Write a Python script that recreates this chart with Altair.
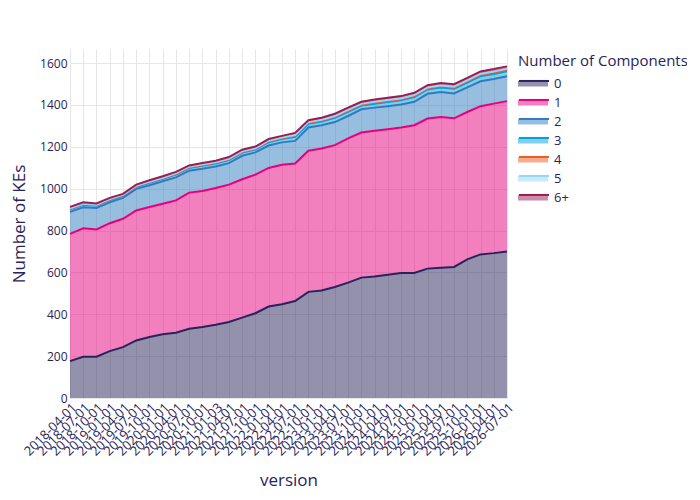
import altair as alt
import pandas as pd

versions = [
    "2018-04-01", "2018-07-01", "2018-10-01", "2019-01-01", "2019-04-01",
    "2019-07-01", "2019-10-01", "2020-01-01", "2020-04-01", "2020-07-01",
    "2020-10-01", "2021-01-03", "2021-04-01", "2021-07-01", "2021-10-01",
    "2022-01-01", "2022-04-01", "2022-07-01", "2022-10-01", "2023-01-01",
    "2023-04-01", "2023-07-01", "2023-10-01", "2024-01-01", "2024-04-01",
    "2024-07-01", "2024-10-01", "2025-01-01", "2025-04-01", "2025-07-01",
    "2025-10-01", "2026-01-01", "2026-04-01", "2026-07-01",
]

components = ["0", "1", "2", "3", "4", "5", "6+"]

kes_0 = [176, 197, 197, 224, 243, 275, 291, 304, 312, 331, 339, 350, 363, 384, 405, 437, 448,
         463, 507, 514, 530, 551, 575, 580, 589, 597, 597, 618, 622, 626, 662, 686, 692, 700]
kes_1 = [608, 614, 608, 611, 613, 621, 621, 624, 632, 650, 650, 653, 656, 661, 662, 662, 666,
         657, 674, 678, 678, 689, 693, 696, 695, 695, 706, 717, 720, 710, 704, 708, 714, 718]
kes_2 = [105, 100, 103, 100, 100, 103, 104, 107, 110, 105, 106, 103, 103, 112, 106, 107, 107,
         108, 111, 111, 110, 107, 111, 111, 110, 110, 112, 118, 119, 119, 118, 119, 118, 119]
kes_3 = [12, 12, 11, 11, 10, 10, 12, 12, 13, 13, 14, 14, 15, 15, 14, 16, 16,
         19, 18, 18, 20, 20, 18, 19, 20, 20, 22, 21, 22, 22, 23, 24, 24, 24]
kes_4 = [3, 3, 2, 2, 2, 2, 3, 3, 3, 3, 3, 3, 3, 3, 3, 4, 4,
         5, 4, 4, 5, 5, 4, 5, 5, 5, 5, 5, 5, 5, 5, 6, 6, 6]
kes_5 = [2, 2, 2, 2, 2, 2, 2, 2, 3, 3, 3, 3, 3, 3, 3, 3, 3,
         4, 4, 4, 4, 4, 4, 4, 4, 4, 5, 4, 5, 5, 5, 5, 5, 5]
kes_6 = [7, 7, 6, 6, 5, 6, 7, 7, 7, 6, 7, 7, 8, 8, 8, 8, 8,
         10, 9, 10, 11, 11, 10, 11, 11, 11, 11, 11, 12, 12, 12, 12, 12, 12]

colors = ["#29235c", "#e6007e", "#307bbf", "#009fe3", "#eb5b25", "#93d5f6", "#9a1c57"]

series = [kes_0, kes_1, kes_2, kes_3, kes_4, kes_5, kes_6]
rows = []
for ci, (comp, vals) in enumerate(zip(components, series)):
    for v, n in zip(versions, vals):
        rows.append({"version": v, "comp": comp, "comp_line": comp, "rank": ci, "count": n})
df = pd.DataFrame(rows)

TEXT = "#29235c"
FONT = "Open Sans"

x_enc = alt.X(
    "version:O",
    sort=versions,
    scale=alt.Scale(type="point", padding=0),
    axis=alt.Axis(
        title="version", labelAngle=-45, labelOverlap=False, labelBound=False,
        labelFontSize=13, labelPadding=3, ticks=False, domain=False,
        grid=True, gridColor="#e6e6e6", titleFontSize=17, titlePadding=14,
        titleFontWeight="normal",
    ),
)
y_scale = alt.Scale(domain=[0, 1667], nice=False)
y_axis = alt.Axis(
    title="Number of KEs", values=list(range(0, 1601, 200)), format="d", ticks=False,
    domain=False, grid=True, gridColor="#e6e6e6", labelFontSize=12,
    labelPadding=3, titleFontSize=17, titlePadding=11, titleFontWeight="normal",
)

base = alt.Chart(df).transform_stack(
    stack="count", groupby=["version"], as_=["y0", "y1"],
    sort=[alt.SortField("rank", order="ascending")],
)

areas = base.mark_area(fillOpacity=0.5, strokeWidth=0).encode(
    x=x_enc,
    y=alt.Y("y1:Q", scale=y_scale, axis=y_axis),
    y2="y0:Q",
    fill=alt.Fill(
        "comp:N",
        scale=alt.Scale(domain=components, range=colors),
        legend=alt.Legend(
            title="Number of Components", orient="none", legendX=448, legendY=5,
            symbolType="M-1,-0.17H1V0.2H-1Z", symbolSize=900, symbolOpacity=0.5,
            symbolStrokeWidth=0, labelFontSize=13, titleFontSize=15,
            titleFontWeight="normal", titlePadding=5, padding=0, rowPadding=0,
            clipHeight=19, labelOffset=6,
        ),
    ),
)

lines = base.mark_line(strokeWidth=2).encode(
    x=x_enc,
    y=alt.Y("y1:Q", scale=y_scale),
    detail="comp:N",
    stroke=alt.Stroke(
        "comp_line:N",
        scale=alt.Scale(range=colors),
        legend=alt.Legend(
            title=None, labelExpr="''", orient="none", legendX=448, legendY=25,
            symbolType="M-1,-0.17H1", symbolSize=900, symbolStrokeWidth=2,
            labelFontSize=13, padding=0, rowPadding=0, clipHeight=19, labelOffset=6,
        ),
    ),
)

chart = alt.layer(areas, lines).properties(
    width=437, height=349,
    autosize=alt.AutoSizeParams(type="none"),
    padding={"left": 62, "top": 41, "right": 180, "bottom": 93},
).configure(
    font=FONT,
).configure_axis(
    labelColor=TEXT, titleColor=TEXT, labelFont=FONT, titleFont=FONT,
).configure_legend(
    labelColor=TEXT, titleColor=TEXT, labelFont=FONT, titleFont=FONT,
).configure_view(stroke=None)

chart.save("out.html", embed_options={"renderer": "svg", "actions": False})
